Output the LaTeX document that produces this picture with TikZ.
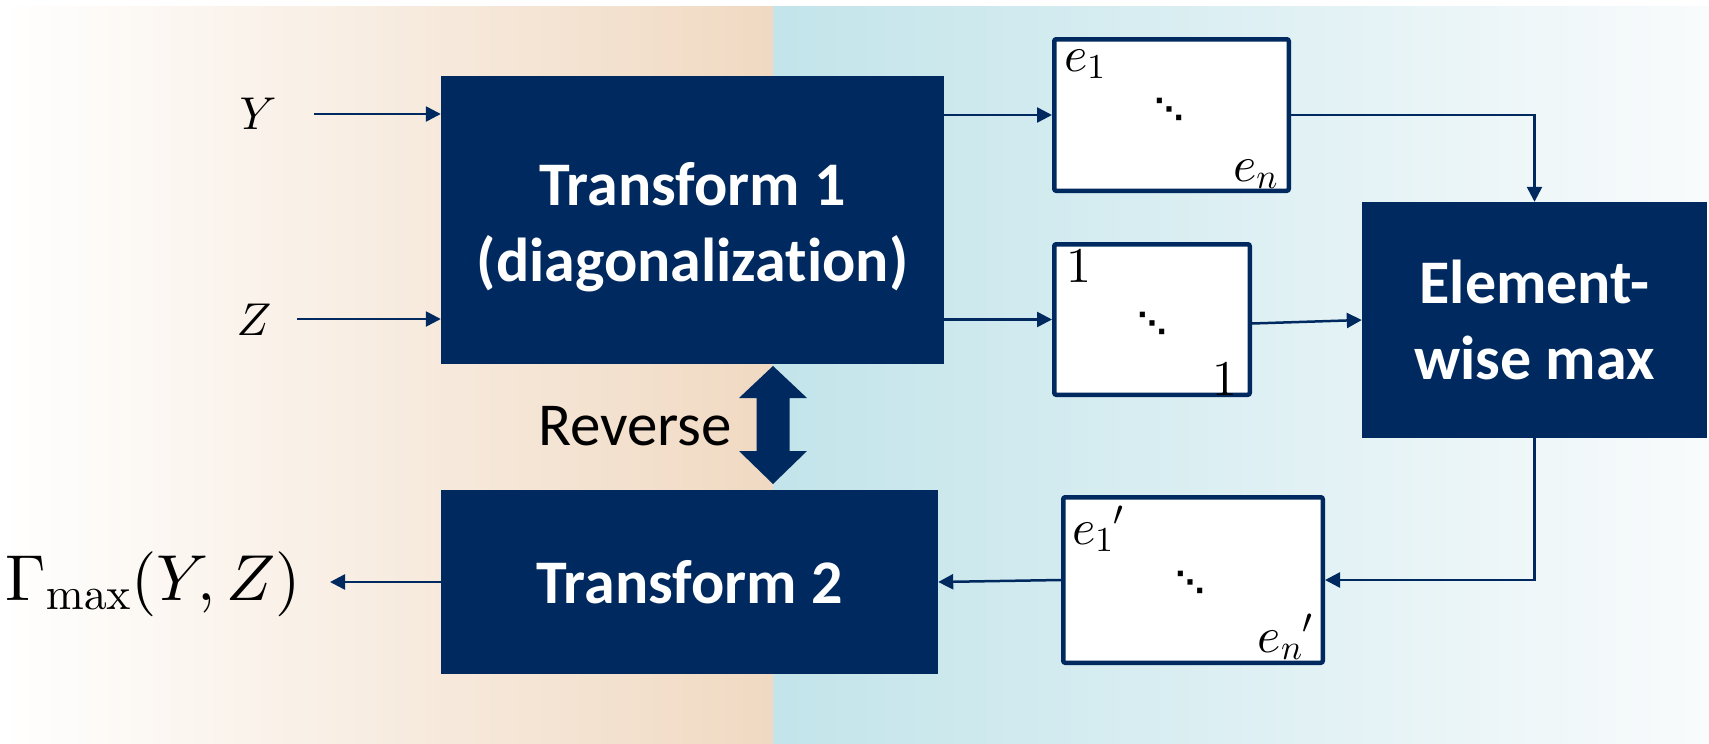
\documentclass[tikz,border=0pt]{standalone}
\usepackage[no-math]{fontspec}
\setmainfont{Carlito}[Ligatures=NoCommon]
\newfontfamily\dejavu{DejaVu Sans}
\DeclareFontShape{OML}{cmm}{m}{it}{<->cmmi10}{}
\DeclareFontShape{OT1}{cmr}{m}{n}{<->cmr10}{}
\DeclareFontShape{OMS}{cmsy}{m}{n}{<->cmsy10}{}
\DeclareFontShape{OMX}{cmex}{m}{n}{<->cmex10}{}
\usetikzlibrary{arrows.meta,calc}
\definecolor{navy}{RGB}{0,42,95}
\definecolor{peach}{RGB}{240,217,194}
\definecolor{tealL}{RGB}{194,228,234}
\definecolor{tealR}{RGB}{249,251,252}
\begin{document}
\begin{tikzpicture}[x=1pt,y=-1pt,
  blk/.style={fill=navy, draw=none, inner sep=0pt, text=white,
    font=\fontsize{62}{76}\selectfont\bfseries, align=center},
  mat/.style={draw=navy, line width=4.5pt, fill=white, rounded corners=2pt, inner sep=0pt},
  arr/.style={draw=navy, line width=2.5pt, -{Triangle[length=15pt,width=15pt]}},
  mlab/.style={font=\fontsize{46}{52}\selectfont, inner sep=0pt, text=black},
  elab/.style={font=\fontsize{50}{56}\selectfont, inner sep=0pt, text=black},
  dts/.style={font=\dejavu\bfseries\fontsize{29}{34}\selectfont, inner sep=0pt, text=black},
]
\useasboundingbox (0,0) rectangle (1709,744);
% background
\shade[left color=white, right color=peach, draw=none] (0,6) rectangle (773,744);
\shade[left color=tealL, right color=tealR, draw=none] (773,6) rectangle (1709,744);

% blocks
\node[blk, minimum width=503pt, minimum height=288pt] (t1) at (692.5,220) {};
\node[blk, text=white] (t1txt) at (692.5,227) {Transform 1\\(diagonalization)};
\node[blk, minimum width=497pt, minimum height=184pt] (t2) at (689.5,582) {Transform 2};
\node[blk, minimum width=345pt, minimum height=236pt] (em) at (1534.5,320) {Element-\\wise max};

% matrices
\node[mat, minimum width=234.5pt, minimum height=151.5pt] (m1) at (1171.5,115) {};
\node[mat, minimum width=195.5pt, minimum height=150.5pt] (m2) at (1152,319.5) {};
\node[mat, minimum width=259.5pt, minimum height=165.5pt] (m3) at (1193,580) {};

\node[elab, anchor=base west] (m1a) at (1064,71) {$e_1$};
\node[elab, anchor=base east] (m1b) at (1278,181) {$e_n$};
\node[dts] (m1d) at (1169,109) {⋱};

\node[elab, anchor=base west] (m2a) at (1066,282) {$1$};
\node[elab, anchor=base east] (m2b) at (1238,395) {$1$};
\node[dts] (m2d) at (1152,323) {⋱};

\node[elab, anchor=base west] (m3a) at (1072,544) {${e_1}'$};
\node[elab, anchor=base east] (m3b) at (1313,652) {${e_n}'$};
\node[dts] (m3d) at (1190,582) {⋱};

% inputs / output labels
\node[mlab, anchor=base] (ylab) at (258,129) {$Y$};
\node[mlab, anchor=base] (zlab) at (254,335) {$Z$};
\node[inner sep=0pt, anchor=base west, font=\fontsize{65}{78}\selectfont] (gam) at (5,600) {$\Gamma_{\mathrm{max}}(Y,Z)$};
\node[inner sep=0pt, anchor=base, font=\fontsize{61}{72}\selectfont] (rev) at (635,445) {Reverse};

\coordinate (yin) at (314,114);
\coordinate (zin) at (297,319);
\coordinate (gout) at (330,582);

% connectors
\draw[arr] (yin) -- (yin -| t1.west);
\draw[arr] (zin) -- (zin -| t1.west);
\draw[arr] (t1.east |- m1.west) -- (m1.west);
\draw[arr] (t1.east |- m2.west) -- (m2.west);
\draw[arr] (m1.east) -- (m1.east -| em.north) -- (em.north);
\draw[arr] ([yshift=-4pt]m2.east) -- (em.west);
\draw[arr] (em.south) -- (em.south |- m3.east) -- (m3.east);
\draw[arr] (m3.west) -- (t2.east);
\draw[arr] (t2.west) -- (gout);

% reverse double arrow
\fill[navy] (773,366) -- (807,398) -- (789.5,398) -- (789.5,451) -- (807,451)
  -- (773,484) -- (739,451) -- (756.5,451) -- (756.5,398) -- (739,398) -- cycle;
\end{tikzpicture}
\end{document}
